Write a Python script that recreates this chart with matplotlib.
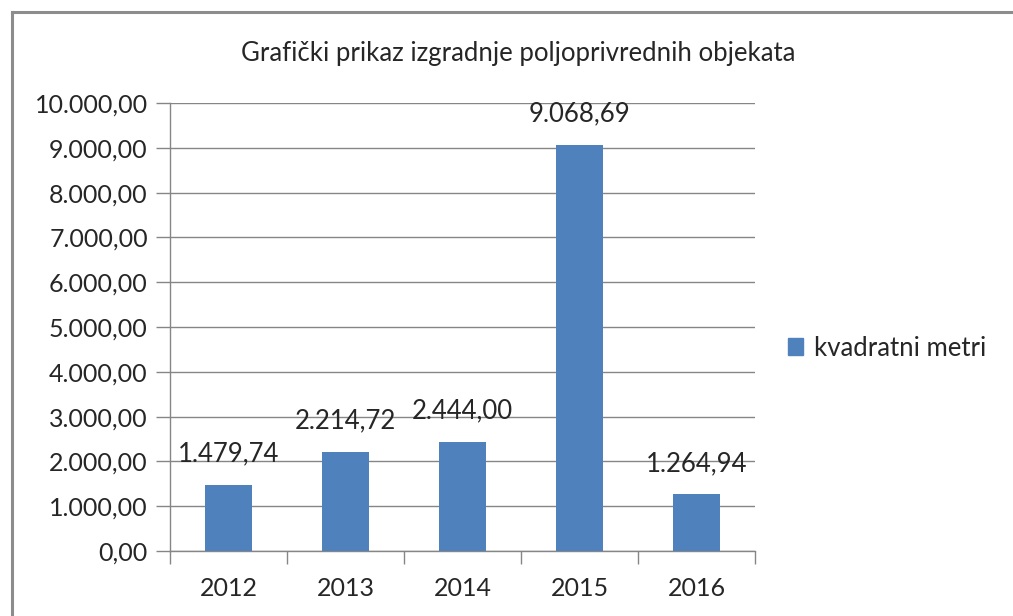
import matplotlib.pyplot as plt
from matplotlib.lines import Line2D
from matplotlib.patches import Patch
from matplotlib.ticker import FuncFormatter

plt.rcParams['font.family'] = ['Lato', 'DejaVu Sans']

years = ['2012', '2013', '2014', '2015', '2016']
values = [1479.74, 2214.72, 2444.00, 9068.69, 1264.94]
series_name = 'kvadratni metri'
title = 'Grafički prikaz izgradnje poljoprivrednih objekata'

bar_color = '#4F81BD'
grid_color = '#868686'
text_color = '#262626'


def fmt(v, pos=None):
    s = f'{v:,.2f}'
    return s.replace(',', 'X').replace('.', ',').replace('X', '.')


fig = plt.figure(figsize=(10.13, 6.16), dpi=100)
ax = fig.add_axes([170 / 1013, 65 / 616, 585 / 1013, 448 / 616])

x = range(len(years))
ax.bar(x, values, width=0.4, color=bar_color, zorder=3)

ax.set_xlim(-0.5, len(years) - 0.5)
ax.set_ylim(0, 10000)
ax.set_yticks(range(0, 10001, 1000))
ax.yaxis.set_major_formatter(FuncFormatter(fmt))
ax.set_xticks(list(x))
ax.set_xticklabels(years)
ax.set_xticks([i - 0.5 for i in range(len(years) + 1)], minor=True)

ax.grid(axis='y', color=grid_color, linewidth=1, zorder=0)
for side in ['top', 'right']:
    ax.spines[side].set_visible(False)
for side in ['left', 'bottom']:
    ax.spines[side].set_color(grid_color)
    ax.spines[side].set_linewidth(1)

ax.tick_params(axis='y', length=10, width=1, color=grid_color,
               labelsize=18, labelcolor=text_color, pad=6)
ax.tick_params(axis='x', which='major', length=0, labelsize=18,
               labelcolor=text_color, pad=19)
ax.tick_params(axis='x', which='minor', length=9, width=1, color=grid_color)

for i, v in enumerate(values):
    ax.annotate(fmt(v), (i, v), xytext=(0, 22), textcoords='offset points',
                ha='center', va='center', fontsize=18.5, color=text_color)

fig.text(518 / 1013, 1 - 53 / 616, title, ha='center', va='center',
         fontsize=18.5, color=text_color)

leg = fig.legend(handles=[Patch(color=bar_color, label=series_name)],
                 loc='center left', bbox_to_anchor=(788 / 1013, 1 - 348 / 616),
                 frameon=False, fontsize=18.5, handlelength=0.6, handleheight=0.6,
                 handletextpad=0.4, labelcolor=text_color, borderaxespad=0,
                 borderpad=0)

# outer chart border (left and top edges visible)
fig.add_artist(Line2D([11.5 / 1013, 11.5 / 1013], [0, 1 - 12 / 616],
                      color='#8c8c8c', linewidth=2.2, transform=fig.transFigure))
fig.add_artist(Line2D([11.5 / 1013, 1], [1 - 12 / 616, 1 - 12 / 616],
                      color='#8c8c8c', linewidth=2.2, transform=fig.transFigure))

fig.savefig('out.png', dpi=100, facecolor='white')
